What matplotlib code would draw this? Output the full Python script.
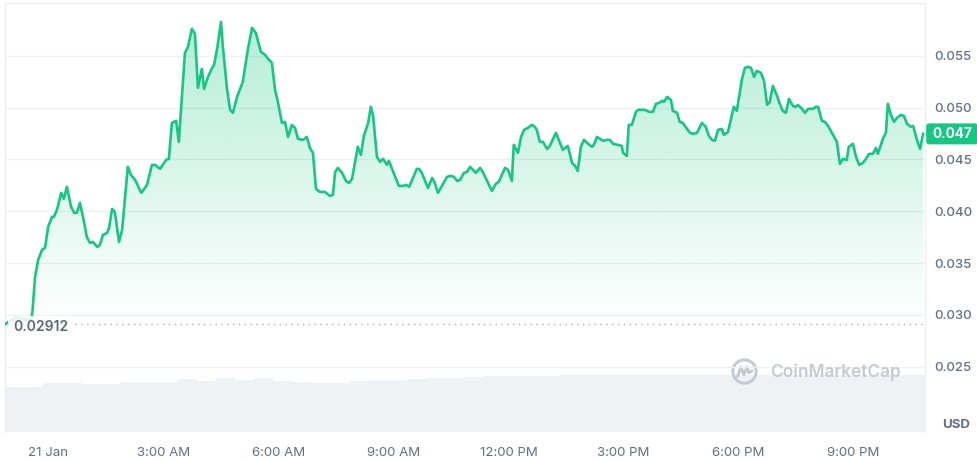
"""CoinMarketCap style 24h price chart with volume strip."""

import numpy as np
import matplotlib

matplotlib.use("Agg")
import matplotlib.pyplot as plt
from matplotlib import patches
from matplotlib.path import Path
from matplotlib.transforms import IdentityTransform

plt.rcParams["font.family"] = ["Inter", "DejaVu Sans"]

# hours relative to 21 Jan 00:00
times = [
    -1.13, -0.85, -0.45, -0.42, -0.35, -0.27, -0.17, -0.09, -0.01, 0.09, 0.14,
    0.22, 0.33, 0.40, 0.48, 0.59, 0.67, 0.74, 0.82, 0.90, 1.00, 1.08, 1.16,
    1.27, 1.34, 1.42, 1.53, 1.58, 1.66, 1.73, 1.84, 1.92, 2.07, 2.15, 2.26,
    2.42, 2.57, 2.70, 2.78, 2.91, 3.07, 3.14, 3.22, 3.33, 3.40, 3.56, 3.64,
    3.74, 3.82, 3.90, 4.00, 4.06, 4.16, 4.27, 4.32, 4.40, 4.50, 4.55, 4.66,
    4.74, 4.81, 4.92, 5.07, 5.20, 5.31, 5.41, 5.54, 5.65, 5.73, 5.83, 5.91,
    5.99, 6.09, 6.17, 6.25, 6.35, 6.43, 6.51, 6.64, 6.74, 6.82, 6.90, 6.98,
    7.08, 7.21, 7.34, 7.42, 7.48, 7.55, 7.66, 7.76, 7.84, 7.92, 8.07, 8.15,
    8.23, 8.34, 8.41, 8.47, 8.57, 8.65, 8.73, 8.83, 8.88, 9.14, 9.25, 9.33,
    9.41, 9.61, 9.67, 9.74, 9.90, 10.01, 10.08, 10.16, 10.40, 10.50, 10.58,
    10.66, 10.74, 10.84, 10.92, 11.00, 11.15, 11.26, 11.33, 11.57, 11.67,
    11.75, 11.91, 11.99, 12.09, 12.14, 12.25, 12.33, 12.41, 12.51, 12.61,
    12.69, 12.74, 12.82, 12.90, 13.01, 13.08, 13.24, 13.42, 13.55, 13.66,
    13.74, 13.81, 13.89, 13.97, 14.08, 14.18, 14.23, 14.31, 14.39, 14.47,
    14.57, 14.65, 14.73, 14.86, 14.96, 14.99, 15.09, 15.14, 15.22, 15.33,
    15.38, 15.56, 15.67, 15.77, 15.85, 15.93, 16.01, 16.06, 16.14, 16.24,
    16.29, 16.40, 16.47, 16.55, 16.66, 16.74, 16.82, 16.92, 16.97, 17.05,
    17.15, 17.23, 17.31, 17.39, 17.47, 17.57, 17.62, 17.73, 17.88, 17.96,
    18.09, 18.17, 18.25, 18.33, 18.41, 18.48, 18.59, 18.67, 18.75, 18.82,
    18.90, 19.01, 19.08, 19.16, 19.24, 19.32, 19.42, 19.50, 19.55, 19.66,
    19.74, 19.82, 19.95, 20.02, 20.08, 20.18, 20.26, 20.34, 20.47, 20.57,
    20.65, 20.73, 20.83, 20.88, 20.99, 21.07, 21.15, 21.25, 21.33, 21.41,
    21.51, 21.59, 21.64, 21.77, 21.85, 21.90, 21.98, 22.06, 22.14, 22.24,
    22.32, 22.40, 22.50, 22.56, 22.66, 22.74, 22.82,
]
prices = [
    0.02912, 0.02975, 0.02945, 0.03030, 0.03367, 0.03531, 0.03627, 0.03647,
    0.03849, 0.03946, 0.03946, 0.04014, 0.04178, 0.04120, 0.04236, 0.04042,
    0.03985, 0.03985, 0.04081, 0.03946, 0.03753, 0.03695, 0.03705, 0.03656,
    0.03676, 0.03772, 0.03792, 0.03840, 0.04023, 0.03994, 0.03705, 0.03820,
    0.04429, 0.04351, 0.04303, 0.04178, 0.04255, 0.04448, 0.04448, 0.04409,
    0.04496, 0.04506, 0.04853, 0.04873, 0.04670, 0.05529, 0.05587, 0.05761,
    0.05712, 0.05191, 0.05374, 0.05181, 0.05297, 0.05384, 0.05413, 0.05568,
    0.05828, 0.05587, 0.05172, 0.04979, 0.04950, 0.05104, 0.05249, 0.05558,
    0.05770, 0.05722, 0.05539, 0.05510, 0.05471, 0.05432, 0.05172, 0.05046,
    0.04853, 0.04863, 0.04718, 0.04834, 0.04805, 0.04699, 0.04689, 0.04718,
    0.04612, 0.04564, 0.04216, 0.04187, 0.04187, 0.04149, 0.04158, 0.04380,
    0.04419, 0.04371, 0.04293, 0.04274, 0.04313, 0.04622, 0.04544, 0.04728,
    0.04853, 0.05008, 0.04921, 0.04525, 0.04477, 0.04506, 0.04448, 0.04487,
    0.04245, 0.04245, 0.04255, 0.04236, 0.04409, 0.04409, 0.04371, 0.04226,
    0.04322, 0.04274, 0.04178, 0.04332, 0.04342, 0.04332, 0.04293, 0.04303,
    0.04371, 0.04380, 0.04429, 0.04371, 0.04419, 0.04380, 0.04197, 0.04264,
    0.04284, 0.04419, 0.04400, 0.04293, 0.04641, 0.04564, 0.04718, 0.04786,
    0.04805, 0.04834, 0.04815, 0.04786, 0.04670, 0.04670, 0.04602, 0.04631,
    0.04757, 0.04593, 0.04631, 0.04467, 0.04438, 0.04390, 0.04622, 0.04689,
    0.04651, 0.04622, 0.04641, 0.04718, 0.04699, 0.04680, 0.04689, 0.04689,
    0.04651, 0.04641, 0.04631, 0.04564, 0.04535, 0.04834, 0.04834, 0.04960,
    0.04979, 0.04979, 0.04960, 0.04960, 0.05037, 0.05046, 0.05066, 0.05056,
    0.05104, 0.05075, 0.04969, 0.04950, 0.04863, 0.04853, 0.04795, 0.04757,
    0.04747, 0.04757, 0.04795, 0.04853, 0.04815, 0.04728, 0.04689, 0.04680,
    0.04786, 0.04795, 0.04738, 0.04766, 0.05008, 0.04969, 0.05268, 0.05384,
    0.05394, 0.05384, 0.05297, 0.05355, 0.05336, 0.05259, 0.05027, 0.05056,
    0.05210, 0.05114, 0.05037, 0.04969, 0.04950, 0.05085, 0.05017, 0.05008,
    0.05027, 0.04989, 0.04950, 0.04989, 0.04989, 0.05008, 0.05008, 0.04873,
    0.04863, 0.04824, 0.04738, 0.04670, 0.04458, 0.04506, 0.04496, 0.04622,
    0.04651, 0.04525, 0.04448, 0.04467, 0.04506, 0.04554, 0.04554, 0.04612,
    0.04554, 0.04699, 0.04757, 0.05037, 0.04931, 0.04863, 0.04902, 0.04931,
    0.04921, 0.04844, 0.04815, 0.04824, 0.04689, 0.04602, 0.04747,
]

# half-hour volume, arbitrary units
volumes = [
    4.5, 4.55, 4.9, 4.95, 4.8, 4.8, 5.0, 5.05, 5.05, 5.3, 5.15, 5.4, 5.25,
    5.4, 5.15, 5.0, 4.9, 4.95, 5.1, 5.2, 5.2, 5.3, 5.4, 5.45, 5.5, 5.6, 5.6,
    5.65, 5.65, 5.7, 5.7, 5.7, 5.7, 5.7, 5.72, 5.72, 5.72, 5.72, 5.75, 5.75,
    5.75, 5.75, 5.75, 5.75, 5.75, 5.75, 5.75, 5.75,
]

open_price = 0.02912
tick_hours = [0, 3, 6, 9, 12, 15, 18, 21]
tick_labels = ["21 Jan", "3:00 AM", "6:00 AM", "9:00 AM",
               "12:00 PM", "3:00 PM", "6:00 PM", "9:00 PM"]
price_ticks = [0.025, 0.030, 0.035, 0.040, 0.045, 0.050, 0.055]

GREEN = "#16c784"
GREY = "#616e85"
LIGHT = "#eff1f4"

xmin, xmax = -1.135, 22.87
ymin, ymax = 0.0187, 0.0601

fig = plt.figure(figsize=(9.77, 4.61), dpi=100)
ax = fig.add_axes([5 / 977, 29 / 461, 920 / 977, 429 / 461])

# volume strip underneath
vol = ax.twinx()
vol_start = xmin + 0.5 * np.arange(len(volumes))
vol.bar(vol_start, volumes, width=0.5, align="edge", color="#eff2f5",
        linewidth=0)
vol.set_ylim(0, 42.9)
vol.set_yticks([])
for s in vol.spines.values():
    s.set_visible(False)
ax.set_zorder(vol.get_zorder() + 1)
ax.patch.set_visible(False)

ax.set_xlim(xmin, xmax)
ax.set_ylim(ymin, ymax)

# gradient fill under the line
fill = ax.fill_between(times, prices, open_price, color="none")
grad = np.zeros((256, 1, 4))
grad[..., 0] = 22 / 255
grad[..., 1] = 199 / 255
grad[..., 2] = 132 / 255
grad[:, 0, 3] = np.linspace(0.0, 0.34, 256)
im = ax.imshow(grad, extent=[xmin, xmax, open_price, ymax], origin="lower",
               aspect="auto", zorder=1, interpolation="bilinear")
clip = patches.PathPatch(fill.get_paths()[0], transform=ax.transData,
                         facecolor="none", edgecolor="none")
ax.add_patch(clip)
im.set_clip_path(clip)

ax.plot(times, prices, color=GREEN, lw=1.9, zorder=3,
        solid_joinstyle="round")

# open price reference line
ax.axhline(open_price, color="#a8b0bd", lw=1, ls=(0, (1, 3.2)), zorder=2)
ax.annotate(f"{open_price:.5f}", (xmin, open_price), xytext=(6, -2.5),
            textcoords="offset points", va="center", ha="left",
            fontsize=10, fontweight="semibold", color="#58667e", zorder=4,
            bbox=dict(boxstyle="square,pad=0.35", fc="white", ec="none",
                      alpha=0.85))

ax.set_yticks(price_ticks)
ax.set_yticklabels([f"{v:.3f}" for v in price_ticks], fontweight="medium")
ax.yaxis.tick_right()
ax.tick_params(axis="y", length=0, pad=7, labelsize=9.5, labelcolor=GREY)
ax.set_xticks(tick_hours)
ax.set_xticklabels(tick_labels)
ax.tick_params(axis="x", length=0, pad=11, labelsize=9.5, labelcolor=GREY)
ax.grid(axis="y", color=LIGHT, lw=1)
ax.set_axisbelow(True)

for side in ["top", "left", "right"]:
    ax.spines[side].set_color("#eceff3")
    ax.spines[side].set_linewidth(1)
ax.spines["bottom"].set_visible(False)

# current price tag, drawn in pixel space at the last price level
last_y = ax.transData.transform((xmax, prices[-1]))[1]
tag = patches.FancyBboxPatch((926, last_y - 10.5), 52, 21,
                             boxstyle="round,pad=0,rounding_size=3",
                             fc=GREEN, ec="none", transform=IdentityTransform())
fig.add_artist(tag)
fig.text(952 / 977, last_y / 461, f"{prices[-1]:.3f}", ha="center",
         va="center", color="white", fontsize=9.8, fontweight="bold")

fig.text(970 / 977, (461 - 425) / 461, "USD", ha="right", va="center",
         fontsize=9.5, fontweight="bold", color=GREY)

# watermark
wm = "#c5cad3"
fig.text(770 / 977, (461 - 372) / 461, "CoinMarketCap", ha="left",
         va="center", fontsize=12.5, fontweight="semibold", color=wm)
logo = fig.add_axes([731 / 977, (461 - 385) / 461, 27 / 977, 27 / 461])
logo.set_xlim(-1.1, 1.1)
logo.set_ylim(-1.1, 1.1)
logo.set_aspect("equal")
logo.axis("off")
logo.add_patch(patches.Circle((0, 0), 0.95, fill=False, ec=wm, lw=2.2))
m_path = Path([(-0.55, -0.4), (-0.3, 0.35), (-0.05, -0.25), (0.2, 0.35),
               (0.35, -0.1), (0.6, 0.05)])
logo.add_patch(patches.PathPatch(m_path, fill=False, ec=wm, lw=2.2,
                                 joinstyle="round", capstyle="round"))

fig.savefig("out.png", dpi=100)
